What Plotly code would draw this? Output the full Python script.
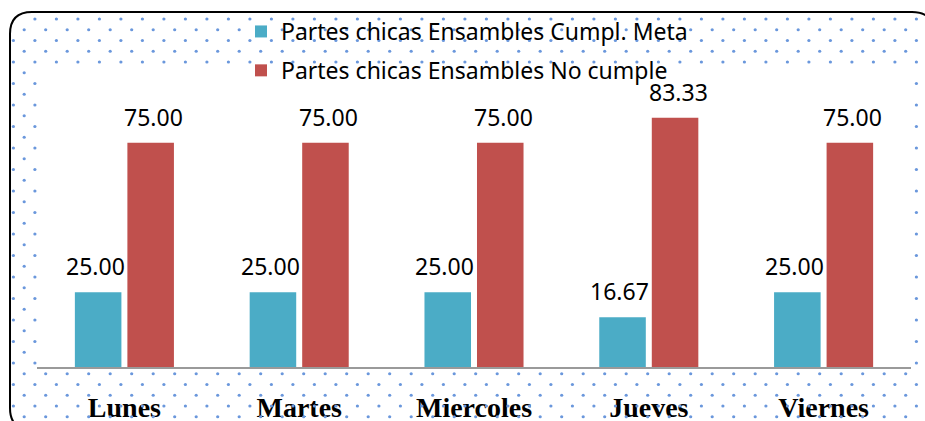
import numpy as np
import plotly.graph_objects as go

# ---- data ----
days = ["Lunes", "Martes", "Miercoles", "Jueves", "Viernes"]
cumple = [25.00, 25.00, 25.00, 16.67, 25.00]
no_cumple = [75.00, 75.00, 75.00, 83.33, 75.00]
series_names = ["Partes chicas Ensambles Cumpl. Meta",
                "Partes chicas Ensambles No cumple"]
series_colors = ["#4BACC6", "#C0504D"]

# ---- geometry (pixels) ----
W, H = 925, 421
PL, PR, PT, PB = 37, 911, 65, 367

fig = go.Figure()
for vals, name, col, grp in [(cumple, series_names[0], series_colors[0], "a"),
                             (no_cumple, series_names[1], series_colors[1], "b")]:
    fig.add_bar(x=days, y=vals, name=name, marker_color=col,
                marker_line_width=0, legendgroup=grp, hoverinfo="skip")

# decorative dotted background (outside plot area, inside rounded border)
xs, ys = [], []
for k in range(0, 38):
    y = 19 + 10.75 * k
    x0 = 13.4 if k % 2 == 0 else 24.2
    for j in range(0, 45):
        x = x0 + 21.5 * j
        if x > W:
            break
        if PL - 1 < x < PR + 1 and PT - 2 < y < PB + 2:
            continue
        if x < 32 and y < 34 and (x - 32) ** 2 + (y - 34) ** 2 > 20 ** 2:
            continue
        if x < 32 and y > 405 and (x - 32) ** 2 + (y - 405) ** 2 > 20 ** 2:
            continue
        xs.append(x)
        ys.append(y)
fig.add_scatter(x=xs, y=ys, mode="markers", xaxis="x2", yaxis="y2",
                marker=dict(size=3.2, color="#6A97DC"), showlegend=False,
                hoverinfo="skip")

# value labels
ann = []
for vals, dx in [(cumple, -29.2), (no_cumple, 29.2)]:
    for d, v in zip(days, vals):
        ann.append(dict(x=d, y=v, xref="x", yref="y", text=f"{v:.2f}",
                        showarrow=False, xshift=dx, yshift=8, yanchor="bottom",
                        font=dict(family="Noto Sans", size=23, color="#000000")))

left, top, right, bottom, r = 10, 12, 934, 430, 22
path = (f"M {left},{bottom - r} L {left},{top + r} Q {left},{top} {left + r},{top} "
        f"L {right - r},{top} Q {right},{top} {right},{top + r} "
        f"L {right},{bottom - r} Q {right},{bottom} {right - r},{bottom} "
        f"L {left + r},{bottom} Q {left},{bottom} {left},{bottom - r} Z")

fig.update_layout(
    width=W, height=H, margin=dict(l=0, r=0, t=0, b=0),
    paper_bgcolor="white", plot_bgcolor="rgba(0,0,0,0)",
    barmode="group", bargap=0.399, bargroupgap=0.114,
    xaxis=dict(domain=[PL / W, PR / W], showline=True, linecolor="#9A9A9A",
               linewidth=2, ticks="outside", ticklen=14, automargin=False,
               tickcolor="rgba(0,0,0,0)", showgrid=False,
               tickfont=dict(family="Liberation Serif", size=28,
                             color="#000000", weight="bold")),
    yaxis=dict(domain=[1 - PB / H, 1 - PT / H], range=[0, 101], visible=False,
               automargin=False),
    xaxis2=dict(domain=[0, 1], range=[0, W], visible=False, anchor="y2",
                automargin=False),
    yaxis2=dict(domain=[0, 1], range=[H, 0], visible=False, anchor="x2",
                automargin=False),
    legend=dict(x=241 / W, y=1 - 10 / H, xanchor="left", yanchor="top",
                bgcolor="rgba(0,0,0,0)", tracegroupgap=6,
                font=dict(family="Noto Sans", size=23, color="#000000")),
    annotations=ann,
    shapes=[dict(type="path", path=path, xref="x2", yref="y2",
                 line=dict(color="#000000", width=2), layer="above")],
    showlegend=True,
)

fig.write_html("out.html", config={"displayModeBar": False},
               post_script="document.body.style.margin='0';")
